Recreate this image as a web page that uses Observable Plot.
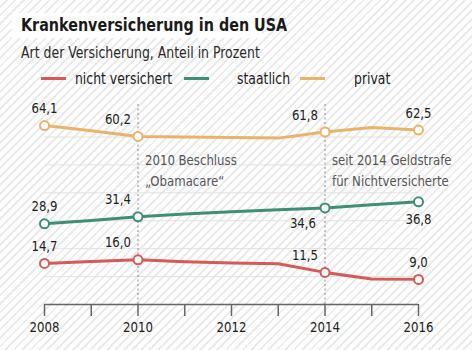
<!DOCTYPE html>
<html><head><meta charset="utf-8">
<script src="https://cdn.jsdelivr.net/npm/d3@7"></script>
<script src="https://cdn.jsdelivr.net/npm/@observablehq/plot@0.6"></script>
<style>
body{margin:0;width:472px;height:350px;overflow:hidden;
  background:repeating-linear-gradient(135deg,#ffffff 0 4px,#ebebeb 4px 6px);
  font-family:"DejaVu Sans Condensed",sans-serif;color:#222;}
#header{position:relative;height:92px;}
#title{position:absolute;left:12px;top:13px;width:250px;height:25px;background:#fff;}
#title span{position:absolute;left:9px;top:1px;font-weight:bold;font-size:18px;color:#1a1a1a;white-space:nowrap;transform:scaleX(0.885);transform-origin:0 0;}
#subtitle{position:absolute;left:21px;top:44px;font-size:15px;color:#2a2a2a;white-space:nowrap;transform:scaleX(0.925);transform-origin:0 0;}
.sw{position:absolute;top:77px;width:25px;height:3px;}
.lt{position:absolute;top:70px;font-size:15px;color:#222;white-space:nowrap;transform:scaleX(0.92);transform-origin:0 0;}
#chart svg{display:block;}
</style></head><body>
<div id="header">
  <div id="title"><span>Krankenversicherung in den USA</span></div>
  <div id="subtitle">Art der Versicherung, Anteil in Prozent</div>
  <div id="legend"></div>
</div>
<div id="chart"></div>
<script>
const years = [2008, 2009, 2010, 2011, 2012, 2013, 2014, 2015, 2016];
const nichtVersichert = [14.7, 15.4, 16.0, 15.3, 14.9, 14.6, 11.5, 9.1, 9.0];
const staatlich = [28.9, 30.1, 31.4, 32.4, 33.2, 33.9, 34.6, 35.7, 36.8];
const privat = [64.1, 62.2, 60.2, 60.0, 59.8, 59.6, 61.8, 63.4, 62.5];
const seriesNames = ["nicht versichert", "staatlich", "privat"];
const seriesColors = ["#d65a55", "#3f8f78", "#e9b46a"];
const labeledYears = [2008, 2010, 2014, 2016];
const xTickLabels = [2008, 2010, 2012, 2014, 2016];
const gridValues = [10, 20, 30, 40, 50, 60];
const noteYears = [2010, 2014];
const noteTexts = ["2010 Beschluss\n„Obamacare“", "seit 2014 Geldstrafe\nfür Nichtversicherte"];

// legend
const legendLeft = [41, 184, 300];
const legendTextLeft = [75, 237, 354];
const legend = document.getElementById("legend");
seriesNames.forEach((name, i) => {
  const sw = document.createElement("div");
  sw.className = "sw"; sw.style.left = legendLeft[i] + "px"; sw.style.background = seriesColors[i];
  legend.appendChild(sw);
  const t = document.createElement("div");
  t.className = "lt"; t.style.left = legendTextLeft[i] + "px"; t.textContent = name;
  legend.appendChild(t);
});

const seriesValues = [nichtVersichert, staatlich, privat];
const data = [];
seriesNames.forEach((s, si) => years.forEach((y, i) => data.push({series: s, year: y, value: seriesValues[si][i]})));
const labeled = data.filter(d => labeledYears.includes(d.year)).map(d => ({
  ...d,
  anchor: (d.year === 2010 || d.year === 2014) ? "end" : "middle",
  below: d.series === "staatlich" && d.year >= 2014
}));
const notes = noteYears.map((y, i) => ({year: y, text: noteTexts[i]}));
const fmt = v => v.toFixed(1).replace(".", ",");
const font = "DejaVu Sans Condensed, sans-serif";

const chart = Plot.plot({
  width: 472, height: 258,
  marginLeft: 44, marginRight: 54, marginTop: 11, marginBottom: 46,
  style: {background: "transparent", fontFamily: font, overflow: "visible"},
  x: {domain: [2008, 2016], axis: null},
  y: {domain: [0, 72], axis: null},
  color: {domain: seriesNames, range: seriesColors},
  marks: [
    Plot.gridY(gridValues, {stroke: "#e2e2e2", strokeOpacity: 1}),
    Plot.ruleX(noteYears, {y1: 0, y2: 72, stroke: "#888", strokeDasharray: "2,2.5"}),
    Plot.text(notes, {x: "year", y: 55, text: "text", textAnchor: "start", lineAnchor: "top", dx: 7, fontSize: 14.5, fill: "#555", lineHeight: 1.4}),
    Plot.ruleY([0], {stroke: "#666", strokeWidth: 1.5}),
    Plot.axisX({ticks: years, tickSize: 12, tickPadding: 5, tickFormat: d => xTickLabels.includes(d) ? String(d) : "", fontSize: 14.5, stroke: "#666", strokeWidth: 1.5, fill: "#222", label: null}),
    Plot.line(data, {x: "year", y: "value", z: "series", stroke: "series", strokeWidth: 3}),
    Plot.dot(labeled, {x: "year", y: "value", stroke: "series", fill: "white", r: 4.5, strokeWidth: 2}),
    Plot.text(labeled.filter(d => d.anchor === "middle" && !d.below), {x: "year", y: "value", text: d => fmt(d.value), dy: -17, fontSize: 14.5, fill: "#222"}),
    Plot.text(labeled.filter(d => d.anchor === "middle" && d.below), {x: "year", y: "value", text: d => fmt(d.value), dy: 18, fontSize: 14.5, fill: "#222"}),
    Plot.text(labeled.filter(d => d.anchor === "end" && !d.below), {x: "year", y: "value", text: d => fmt(d.value), dy: -17, dx: -7, textAnchor: "end", fontSize: 14.5, fill: "#222"}),
    Plot.text(labeled.filter(d => d.anchor === "end" && d.below), {x: "year", y: "value", text: d => fmt(d.value), dy: 15, dx: -9, textAnchor: "end", fontSize: 14.5, fill: "#222"})
  ]
});
// narrow the glyphs to mimic the condensed typeface of the original
chart.querySelectorAll("text").forEach(t => {
  const tr = t.getAttribute("transform") || "";
  t.setAttribute("transform", tr + " scale(0.9,1)");
});
document.getElementById("chart").appendChild(chart);
</script>
</body></html>
